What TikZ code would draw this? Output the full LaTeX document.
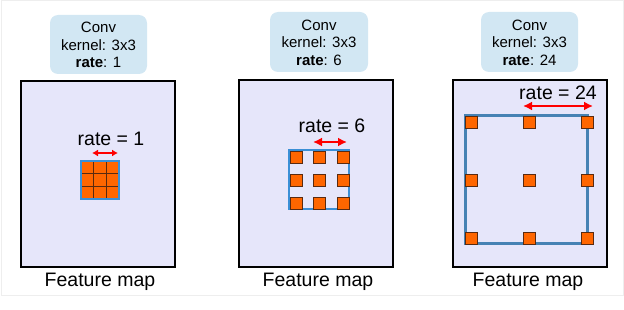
\documentclass[tikz,border=0pt]{standalone}
\usepackage{fontspec}
\setmainfont{Liberation Sans}
\usetikzlibrary{arrows.meta}
\definecolor{fmfill}{HTML}{E6E6FA}
\definecolor{convfill}{HTML}{D2E7F3}
\definecolor{kblue}{HTML}{4682B4}
\definecolor{kblueb}{HTML}{3A8FD6}
\definecolor{korange}{HTML}{FF6600}
\definecolor{kbrown}{HTML}{5A2A10}
\definecolor{faint}{HTML}{EEEEEE}
\begin{document}
\begin{tikzpicture}[x=1pt,y=-1pt,
  fmap/.style={draw=black,line width=2pt,fill=fmfill},
  convbox/.style={fill=convfill,rounded corners=8pt,draw=none},
  convtext/.style={font=\fontsize{15}{17.5}\selectfont,align=center,inner sep=0pt},
  bigtext/.style={font=\fontsize{19.5}{22}\selectfont,inner sep=0pt,anchor=base},
  kframe/.style={draw=kblue,line width=3pt},
  cell/.style={fill=korange,draw=kbrown,line width=0.6pt,minimum size=12pt,inner sep=0pt},
  rarrow/.style={draw=red,line width=2.4pt,{Latex[length=9pt,width=9pt]}-{Latex[length=9pt,width=9pt]}},
  rarrows/.style={draw=red,line width=2pt,{Latex[length=6pt,width=7pt]}-{Latex[length=6pt,width=7pt]}}]
\useasboundingbox (0,0) rectangle (624,310);
\draw[faint,line width=0.8pt] (1,0.5) rectangle (623,295);

% ---------- panel 1
\fill[convbox] (50,15) rectangle (147,74);
\node[convtext] (c1) at (98.5,45) {Conv\\kernel: 3x3\\\textbf{rate}: 1};
\draw[fmap] (21,81) rectangle (175,267);
\node[bigtext] (r1) at (111,146) {rate = 1};
\coordinate (a1l) at (92,153);
\coordinate (a1r) at (118,153);
\draw[rarrows] (a1l) -- (a1r);
\fill[korange] (81,161) rectangle (119,199);
\foreach \i in {1,2} {
  \draw[kbrown,line width=0.9pt] (81+12.67*\i,161) -- (81+12.67*\i,199);
  \draw[kbrown,line width=0.9pt] (81,161+12.67*\i) -- (119,161+12.67*\i);
}
\draw[kblueb,line width=1.5pt] (81,161) rectangle (119,199);
\node[bigtext] (f1) at (100,286) {Feature map};

% ---------- panel 2
\fill[convbox] (270,12) rectangle (368,72);
\node[convtext] (c2) at (319,42.5) {Conv\\kernel: 3x3\\\textbf{rate}: 6};
\draw[fmap] (239,80) rectangle (393,267);
\node[bigtext] (r2) at (332,133) {rate = 6};
\coordinate (a2l) at (313,142);
\coordinate (a2r) at (347,142);
\draw[rarrow] (a2l) -- (a2r);
\draw[kblueb,line width=2.6pt] (289,150) rectangle (349,209);
\foreach \x in {296,319,343} \foreach \y in {157,180,203}
  \node[cell] at (\x,\y) {};
\node[bigtext] (f2) at (318,286) {Feature map};

% ---------- panel 3
\fill[convbox] (481,12) rectangle (578,72);
\node[convtext] (c3) at (529.5,42.5) {Conv\\kernel: 3x3\\\textbf{rate}: 24};
\draw[fmap] (453,80) rectangle (607,267);
\node[bigtext] (r3) at (558,100) {rate = 24};
\coordinate (a3l) at (523,106);
\coordinate (a3r) at (593,106);
\draw[rarrow] (a3l) -- (a3r);
\draw[kframe] (465,116) rectangle (587,243);
\foreach \x in {471,529,587} \foreach \y in {122,180,238}
  \node[cell] at (\x,\y) {};
\node[bigtext] (f3) at (528,286) {Feature map};
\end{tikzpicture}
\end{document}
